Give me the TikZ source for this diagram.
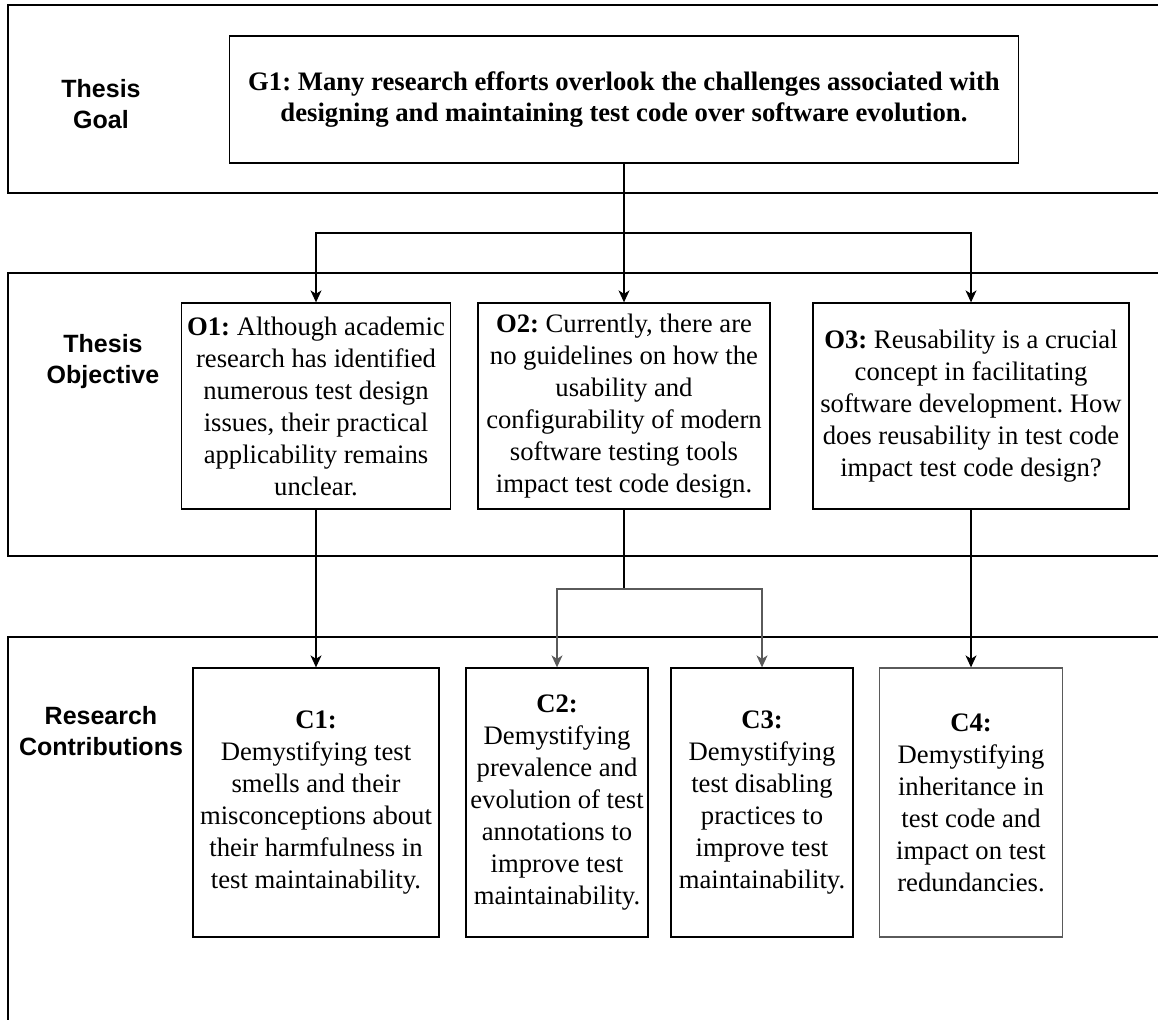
\documentclass[tikz,border=0pt]{standalone}
\usepackage{fontspec}
\setmainfont{Liberation Serif}
\newfontfamily\labelfont{Liberation Sans}
\usetikzlibrary{arrows.meta}
\definecolor{edgegray}{HTML}{5A5A5A}
\frenchspacing
\tikzset{
  band/.style={draw=black, line width=1.3pt},
  box/.style={draw=black, line width=1.3pt, inner sep=0pt, align=center,
    font=\frenchspacing\fontsize{26.67}{32}\selectfont},
  lab/.style={inner sep=0pt, align=center, font=\labelfont\bfseries\fontsize{25}{31}\selectfont},
  conn/.style={draw=black, line width=1.3pt, -{Stealth[length=12pt,width=11pt,inset=3.5pt]}},
  plain/.style={draw=black, line width=1.3pt}
}
\begin{document}
\begin{tikzpicture}[x=1pt,y=-1pt]
\useasboundingbox (0,0) rectangle (1158,1019);
\begin{scope}
\clip (0,0) rectangle (1158,1019);
\draw[band] (8,5) rectangle (1180,193);
\draw[band] (8,273) rectangle (1180,556);
\draw[band] (8,637) rectangle (1180,1040);
\end{scope}

% row labels
\node[lab] (lgoal) at (101,104) {Thesis\\Goal};
\node[lab] (lobj) at (103,362) {Thesis\\Objective};
\node[lab] (lcon) at (101,731) {Research\\Contributions};

% goal
\node[box, minimum width=789pt, minimum height=127pt, font=\frenchspacing\bfseries\fontsize{26.67}{31}\selectfont] (G1) at (624,99.5)
  {G1: Many research efforts overlook the challenges associated with\\designing and maintaining test code over software evolution.};

% objectives
\node[box, minimum width=269pt, minimum height=206pt] (O1) at (316,406)
  {\textbf{O1:} Although academic\\research has identified\\numerous test design\\issues, their practical\\applicability remains\\unclear.};
\node[box, minimum width=292pt, minimum height=206pt] (O2) at (624,406)
  {\textbf{O2:} Currently, there are\\no guidelines on how the\\usability and\\configurability of modern\\software testing tools\\impact test code design.};
\node[box, minimum width=316pt, minimum height=206pt] (O3) at (971,406)
  {\textbf{O3:} Reusability is a crucial\\concept in facilitating\\software development. How\\does reusability in test code\\impact test code design?};

% contributions
\node[box, minimum width=246pt, minimum height=269pt] (C1) at (316,802.5)
  {\textbf{C1:}\\Demystifying test\\smells and their\\misconceptions about\\their harmfulness in\\test maintainability.};
\node[box, minimum width=182pt, minimum height=269pt] (C2) at (557,802.5)
  {\textbf{C2:}\\Demystifying\\prevalence and\\evolution of test\\annotations to\\improve test\\maintainability.};
\node[box, minimum width=182pt, minimum height=269pt] (C3) at (762,802.5)
  {\textbf{C3:}\\Demystifying\\test disabling\\practices to\\improve test\\maintainability.};
\node[box, draw=edgegray, minimum width=183pt, minimum height=269pt] (C4) at (971,802.5)
  {\textbf{C4:}\\Demystifying\\inheritance in\\test code and\\impact on test\\redundancies.};

% connectors
\coordinate (jG) at (624,233);
\coordinate (jO) at (624,589);
\draw[plain] (G1.south) -- (jG);
\draw[conn] (jG) -- (O2.north);
\draw[conn] (jG) -| (O1.north);
\draw[conn] (jG) -| (O3.north);
\draw[conn] (O1.south) -- (C1.north);
\draw[conn] (O3.south) -- (C4.north);
\draw[plain] (O2.south) -- (jO);
\draw[conn, draw=edgegray] (jO) -| (C2.north);
\draw[conn, draw=edgegray] (jO) -| (C3.north);
\end{tikzpicture}
\end{document}
